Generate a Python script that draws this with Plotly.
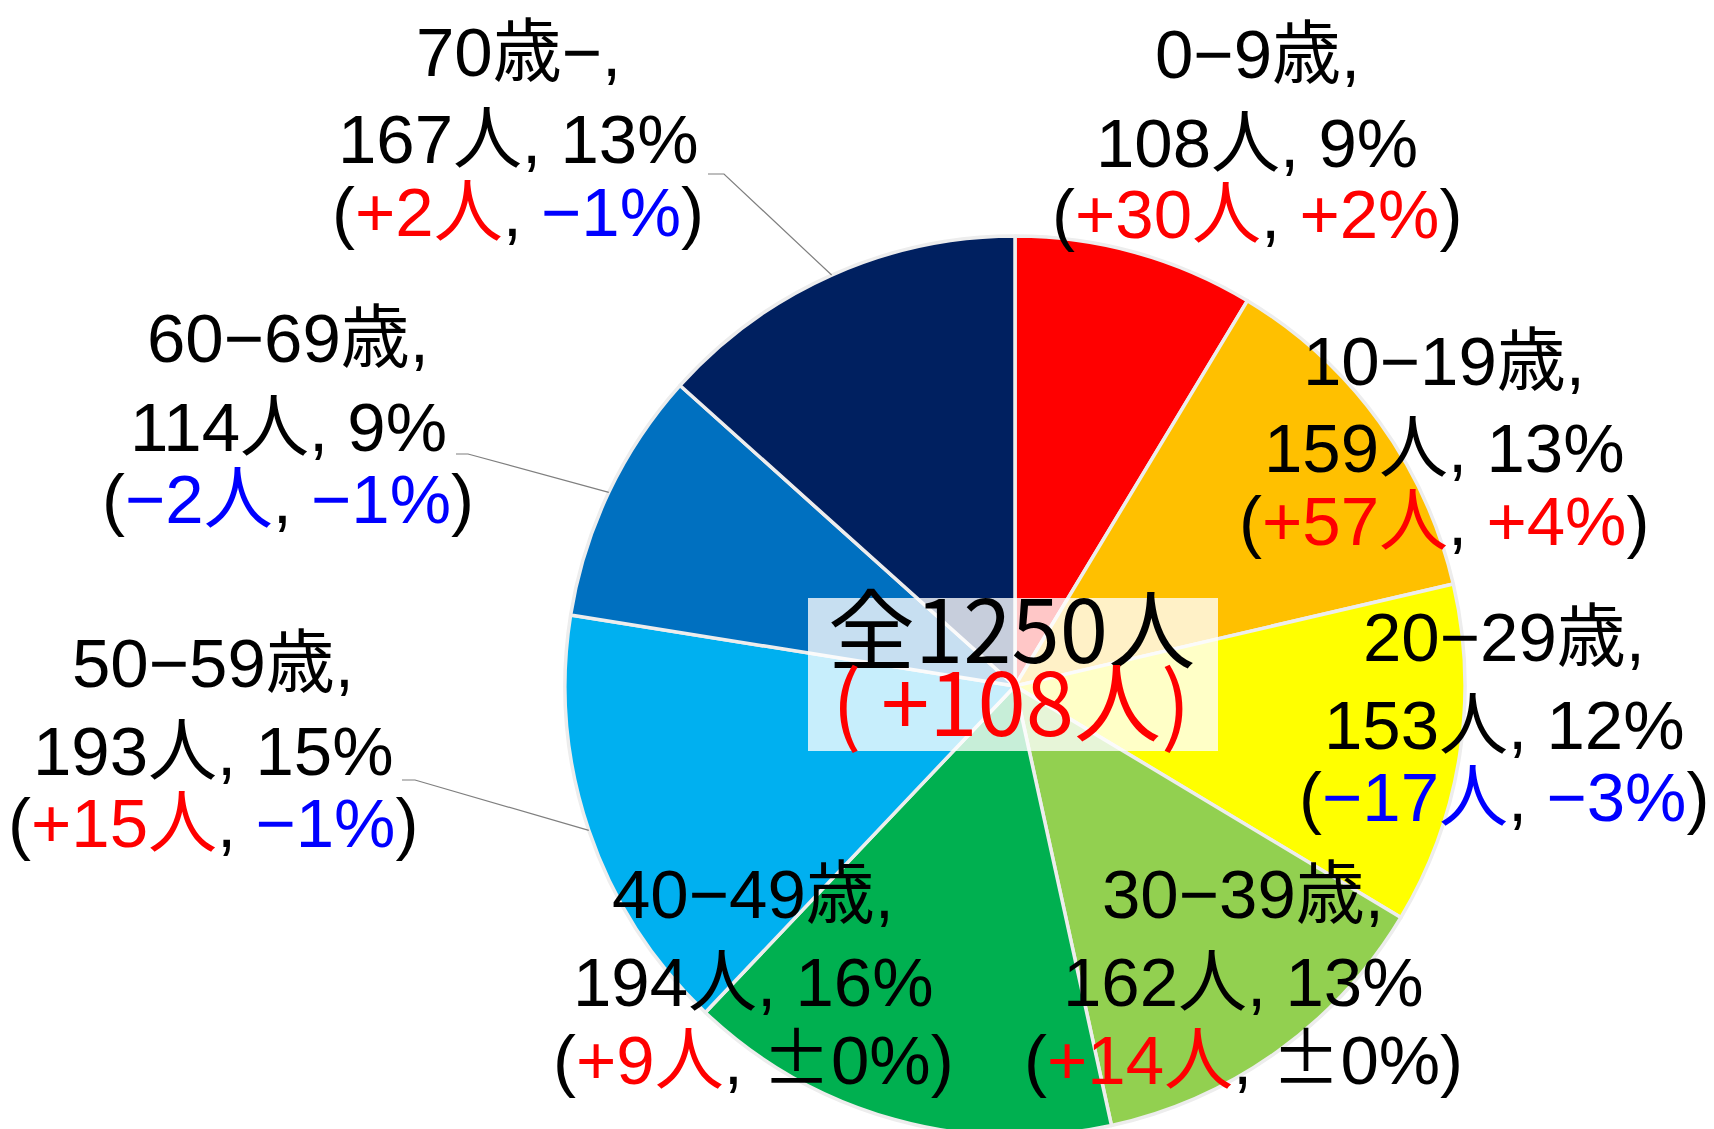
import math
import plotly.graph_objects as go

# --- data ---
age_groups = ["0−9歳", "10−19歳", "20−29歳", "30−39歳",
              "40−49歳", "50−59歳", "60−69歳", "70歳−"]
counts = [108, 159, 153, 162, 194, 193, 114, 167]
shares = [9, 13, 12, 13, 16, 15, 9, 13]          # %
count_change = [30, 57, -17, 14, 9, 15, -2, 2]   # 人
share_change = [2, 4, -3, 0, 0, -1, -1, -1]      # %
total = 1250
total_change = 108

colors = ["#FF0000", "#FFC000", "#FFFF00", "#92D050",
          "#00B050", "#00B0F0", "#0070C0", "#002060"]

# --- layout constants (pixels) ---
W, H = 1714, 1129
PIE_CX, PIE_CY, PIE_R = 1007, 678, 450
LABEL_FONT = "Liberation Sans, Noto Sans CJK JP, sans-serif"
LABEL_SIZE = 69
LINE_OFFSETS = [0, 88, 160]
# label block centre x and first line y for each slice
label_x = [1249, 1436, 1496, 1235, 745, 205, 280, 510]
label_y = [47, 353, 629, 886, 886, 655, 331, 44]
# where the leader lines leave the text (only outside labels)
leader_start = {5: (394, 772, 407), 6: (448, 446, 460), 7: (700, 166, 716)}


def px(x):
    return x / W


def py(y):
    return 1 - y / H


def signed(v, unit):
    if v > 0:
        return "<span style='color:#FF0000'>+%d%s</span>" % (v, unit)
    if v < 0:
        return "<span style='color:#0000FF'>−%d%s</span>" % (-v, unit)
    return "<span style='font-family:Noto Sans CJK JP'>±</span>0%s" % unit


fig = go.Figure(go.Pie(
    labels=age_groups,
    values=counts,
    sort=False,
    direction="clockwise",
    rotation=0,
    textinfo="none",
    hoverinfo="label+value+percent",
    marker=dict(colors=colors, line=dict(color="#EDEDED", width=3.5)),
    domain=dict(x=[px(PIE_CX - PIE_R), px(PIE_CX + PIE_R)],
                y=[py(PIE_CY + PIE_R), py(PIE_CY - PIE_R)]),
    showlegend=False,
))

annotations = []
shapes = []
for i, g in enumerate(age_groups):
    lines = [
        "%s," % g,
        "%d人, %d%%" % (counts[i], shares[i]),
        "(%s, %s)" % (signed(count_change[i], "人"), signed(share_change[i], "%")),
    ]
    for k, t in enumerate(lines):
        annotations.append(dict(
            x=px(label_x[i]), y=py(label_y[i] + LINE_OFFSETS[k]),
            xref="paper", yref="paper", text=t, showarrow=False,
            xanchor="center", yanchor="middle",
            font=dict(family=LABEL_FONT, size=LABEL_SIZE, color="#000000"),
        ))

# leader lines to the middle of the slice edge
cum = 0
for i, c in enumerate(counts):
    mid = (cum + c / 2) / total
    cum += c
    if i in leader_start:
        ang = 2 * math.pi * mid
        ex = PIE_CX + PIE_R * math.sin(ang)
        ey = PIE_CY - PIE_R * math.cos(ang)
        x0, y0, x1 = leader_start[i]
        shapes.append(dict(
            type="path", xref="paper", yref="paper",
            path="M %f,%f L %f,%f L %f,%f" % (px(x0), py(y0), px(x1), py(y0), px(ex), py(ey)),
            line=dict(color="#7F7F7F", width=1.2),
        ))

# centre total box
shapes.append(dict(
    type="rect", xref="paper", yref="paper", layer="above",
    x0=px(800), x1=px(1210), y0=py(743), y1=py(590),
    fillcolor="rgba(255,255,255,0.78)", line=dict(width=0),
))
annotations.append(dict(
    x=px(1003), y=py(617), xref="paper", yref="paper", showarrow=False,
    text="全%d人" % total, xanchor="center", yanchor="middle",
    font=dict(family="Noto Sans CJK JP", size=87, color="#000000"),
))
annotations.append(dict(
    x=px(1003), y=py(690), xref="paper", yref="paper", showarrow=False,
    text="( +%d人)" % total_change, xanchor="center", yanchor="middle",
    font=dict(family="Noto Sans CJK JP", size=87, color="#FF0000"),
))

fig.update_layout(
    width=W, height=H,
    margin=dict(l=0, r=0, t=0, b=0),
    paper_bgcolor="white", plot_bgcolor="white",
    annotations=annotations, shapes=shapes,
)

fig.write_html("out.html")
